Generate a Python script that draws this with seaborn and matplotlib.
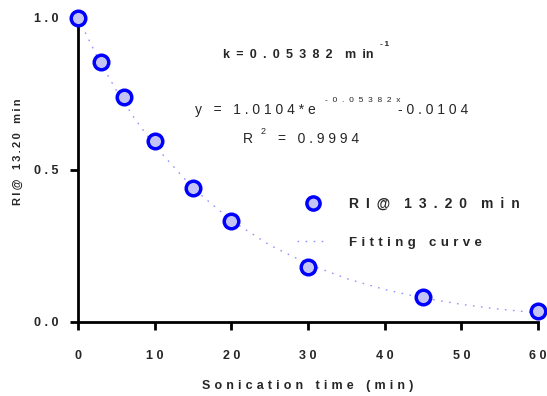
import matplotlib
matplotlib.use("Agg")
import matplotlib.pyplot as plt
import seaborn as sns
import pandas as pd
from matplotlib.lines import Line2D

# ---- data ----
time_min = [0, 3, 6, 10, 15, 20, 30, 45, 60]
ri_values = [1.0, 0.855, 0.740, 0.595, 0.441, 0.332, 0.181, 0.082, 0.036]

curve_x = [0, 2.5, 5, 7.5, 10, 15, 20, 25, 30, 35, 40, 45, 50, 55, 60]
curve_y = [1.0, 0.873, 0.762, 0.665, 0.580, 0.440, 0.334, 0.253, 0.191,
           0.143, 0.107, 0.079, 0.058, 0.042, 0.030]

x_ticks = [0, 10, 20, 30, 40, 50, 60]
y_ticks = [0.0, 0.5, 1.0]
y_tick_labels = ["0.0", "0.5", "1.0"]

series_label = "RI@ 13.20 min"
fit_label = "Fitting curve"
x_label = "Sonication time (min)"
y_label = "RI@ 13.20 min"

EN = "\u2002"
THIRD = "\u2004"
THIN = "\u2009"


def track(s, gap=" ", word="   "):
    return word.join(gap.join(w) for w in s.split(" "))


sns.set_theme(style="white")
plt.rcParams["font.family"] = ["Liberation Sans", "DejaVu Sans"]

fig = plt.figure(figsize=(5.47, 3.96), dpi=100)
ax = fig.add_axes([78 / 547, 1 - 322 / 396, 460 / 547, 304 / 396])

df_pts = pd.DataFrame({"t": time_min, "ri": ri_values})
df_fit = pd.DataFrame({"t": curve_x, "ri": curve_y})

fit_color = "#9494ff"
fit_ls = (0, (1.2, 4.6))

sns.lineplot(data=df_fit, x="t", y="ri", ax=ax, color=fit_color,
             linewidth=1.0, zorder=2)
ax.lines[-1].set_linestyle(fit_ls)
sns.scatterplot(data=df_pts, x="t", y="ri", ax=ax, s=110, marker="o",
                facecolor="#c4c4f4", edgecolor="#0000ff", linewidth=2.5,
                zorder=3, clip_on=False)

ax.set_xlim(0, 60)
ax.set_ylim(0, 1.0)
ax.set_xticks(x_ticks)
ax.set_xticklabels([track(str(v)) for v in x_ticks], fontweight="bold", fontsize=9)
ax.set_yticks(y_ticks)
ax.set_yticklabels([track(s) for s in y_tick_labels], fontweight="bold", fontsize=9)

for side in ["top", "right"]:
    ax.spines[side].set_visible(False)
for side in ["left", "bottom"]:
    ax.spines[side].set_color("black")
    ax.spines[side].set_linewidth(2)
ax.tick_params(axis="both", direction="out", length=6, width=2, color="black",
               bottom=True, left=True)
ax.tick_params(axis="x", pad=14)
ax.tick_params(axis="y", pad=8)

ax.set_xlabel(track(x_label, gap=THIRD, word=EN + EN), fontweight="bold", fontsize=9)
ax.xaxis.set_label_coords(0.5, (322 - 386) / 304)
ax.xaxis.label.set_va("center")
ax.set_ylabel(track(y_label, gap=THIN, word=EN + THIRD), fontweight="bold", fontsize=8)
ax.yaxis.set_label_coords((18 - 78) / 460, (322 - 152) / 304)
ax.yaxis.label.set_va("center")


def px(xp):
    return (xp - 78) / (460 / 60)


def py(yp):
    return (322 - yp) / 304


# annotations
ax.text(px(223), py(55), track("k = 0.05382", gap=EN, word=EN) + EN + EN
        + "m" + EN + "in", fontweight="bold", fontsize=9, ha="left", va="center")
ax.text(px(380), py(45), "-" + THIN + "1", fontweight="bold", fontsize=6,
        ha="left", va="center")

ax.text(px(195), py(110), "y   =   " + track("1.0104*e"), fontsize=10,
        ha="left", va="center")
ax.text(px(325), py(100), track("-0.05382x", gap="  "), fontsize=6,
        ha="left", va="center")
ax.text(px(398), py(110), track("-0.0104"), fontsize=10, ha="left", va="center")

ax.text(px(243), py(139), "R", fontsize=10, ha="left", va="center")
ax.text(px(261), py(132), "2", fontsize=6.5, ha="left", va="center")
ax.text(px(278), py(139), "=   " + track("0.9994"), fontsize=10,
        ha="left", va="center")

handles = [
    Line2D([], [], marker="o", linestyle="none", markersize=9.5,
           markerfacecolor="#c4c4f4", markeredgecolor="#0000ff",
           markeredgewidth=2.5),
    Line2D([], [], color=fit_color, linewidth=1.0, linestyle=fit_ls),
]
leg = ax.legend(handles,
                [track(series_label, gap=EN, word=EN + EN),
                 track(fit_label, gap=THIRD, word=EN + EN)],
                loc="upper left", bbox_to_anchor=((297 - 78) / 460, (322 - 197) / 304),
                frameon=False, borderpad=0, borderaxespad=0,
                handlelength=2.3, handletextpad=1.45, labelspacing=1.8,
                prop={"weight": "bold", "size": 10})
for t in leg.get_texts()[1:]:
    t.set_fontsize(9.5)

fig.savefig("out.png", dpi=100)
